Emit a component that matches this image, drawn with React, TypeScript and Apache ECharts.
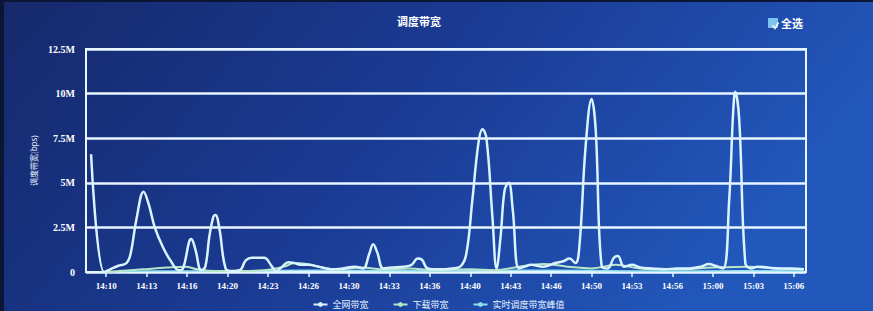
import React, { useEffect, useRef } from "react";
import * as echarts from "echarts";

// x ticks (HH:mm:ss), values in M
const tickTimes = [
  "14:10:00", "14:13:20", "14:16:40", "14:20:00", "14:23:20", "14:26:40",
  "14:30:00", "14:33:20", "14:36:40", "14:40:00", "14:43:20", "14:46:40",
  "14:50:00", "14:53:20", "14:56:40", "15:00:00", "15:03:20", "15:06:40",
];
const yTicks = [0, 2.5, 5, 7.5, 10, 12.5];

const mainTimes = [
  "14:08:45", "14:09:50", "14:10:20", "14:11:00", "14:11:40", "14:12:00", "14:12:30", "14:13:05",
  "14:13:30", "14:14:00", "14:14:40", "14:15:20", "14:16:00", "14:16:20", "14:16:50", "14:17:00",
  "14:17:20", "14:17:50", "14:18:10", "14:18:30", "14:18:50", "14:19:00", "14:19:20", "14:19:50",
  "14:20:20", "14:21:00", "14:21:30", "14:22:00", "14:23:00", "14:23:40", "14:24:00", "14:24:30",
  "14:25:00", "14:25:30", "14:26:00", "14:26:40", "14:27:30", "14:28:30", "14:29:30", "14:30:30",
  "14:31:10", "14:31:40", "14:32:00", "14:32:20", "14:32:50", "14:33:30", "14:34:30", "14:35:10",
  "14:35:40", "14:36:00", "14:36:30", "14:37:30", "14:38:30", "14:39:10", "14:39:40", "14:40:10",
  "14:40:40", "14:41:00", "14:41:20", "14:41:50", "14:42:10", "14:42:30", "14:42:50", "14:43:10",
  "14:43:30", "14:44:00", "14:44:30", "14:45:00", "14:46:00", "14:47:00", "14:47:40", "14:48:10",
  "14:48:40", "14:49:00", "14:49:30", "14:50:00", "14:50:20", "14:50:50", "14:51:20", "14:51:50",
  "14:52:10", "14:52:40", "14:53:20", "14:54:00", "14:55:00", "14:56:00", "14:57:00", "14:58:00",
  "14:59:00", "14:59:40", "15:00:10", "15:00:50", "15:01:20", "15:01:40", "15:01:50", "15:02:10",
  "15:02:40", "15:03:10", "15:03:40", "15:04:30", "15:05:30", "15:06:30", "15:07:30",
];
const mainValues = [
  6.6, 0.0, 0.15, 0.35, 0.5, 1.0, 3.0, 4.5,
  3.8, 2.5, 1.4, 0.6, 0.1, 0.2, 1.7, 1.85,
  1.3, 0.1, 0.3, 2.0, 3.1, 3.2, 2.4, 0.2,
  0.05, 0.1, 0.65, 0.8, 0.8, 0.3, 0.05, 0.3,
  0.55, 0.5, 0.4, 0.4, 0.3, 0.15, 0.2, 0.3,
  0.2, 1.0, 1.55, 1.1, 0.2, 0.25, 0.3, 0.4,
  0.75, 0.7, 0.2, 0.15, 0.2, 0.3, 1.0, 4.0,
  7.2, 8.0, 7.5, 3.0, 0.2, 2.0, 4.6, 5.0,
  3.5, 0.2, 0.3, 0.4, 0.3, 0.5, 0.6, 0.75,
  0.5, 1.5, 7.0, 9.7, 8.0, 0.3, 0.2, 0.8,
  0.9, 0.3, 0.4, 0.25, 0.2, 0.15, 0.2, 0.2,
  0.3, 0.45, 0.35, 0.2, 4.0, 9.0, 10.1, 8.5,
  0.5, 0.2, 0.3, 0.25, 0.2, 0.2, 0.15,
];

const secondTimes = [
  "14:09:50", "14:11:00", "14:13:00", "14:15:00", "14:16:30", "14:17:30", "14:19:00", "14:21:00",
  "14:23:00", "14:24:40", "14:25:30", "14:26:30", "14:27:30", "14:29:00", "14:31:00", "14:33:00",
  "14:35:00", "14:37:00", "14:40:00", "14:42:00", "14:44:00", "14:46:00", "14:48:00", "14:50:00",
  "14:52:00", "14:54:00", "14:57:00", "15:00:00", "15:03:00", "15:05:00", "15:07:30",
];
const secondValues = [
  0.0, 0.05, 0.15, 0.25, 0.3, 0.15, 0.05, 0.05,
  0.1, 0.3, 0.5, 0.45, 0.3, 0.15, 0.25, 0.15,
  0.2, 0.1, 0.15, 0.1, 0.3, 0.45, 0.3, 0.2,
  0.4, 0.2, 0.15, 0.25, 0.3, 0.2, 0.15,
];

const thirdTimes = [
  "14:09:50", "14:14:00", "14:20:00", "14:26:00", "14:32:00", "14:38:00", "14:44:00",
  "14:50:00", "14:56:00", "15:02:00", "15:07:30",
];
const thirdValues = [0.0, 0.05, 0.05, 0.1, 0.08, 0.06, 0.1, 0.08, 0.05, 0.07, 0.05];

const seriesNames = ["全网带宽", "下载带宽", "实时调度带宽峰值"];

const BASE = 14 * 3600 + 10 * 60;
const toSec = (s: string) => {
  const [h, m, sec] = s.split(":").map(Number);
  return h * 3600 + m * 60 + sec - BASE;
};
const fmt = (v: number) => {
  const t = Math.round(v + BASE);
  const h = Math.floor(t / 3600);
  const m = Math.floor((t % 3600) / 60);
  return `${h}:${String(m).padStart(2, "0")}`;
};
const pairs = (ts: string[], vs: number[]) => ts.map((t, i) => [toSec(t), vs[i]]);

export default function App() {
  const ref = useRef<HTMLDivElement>(null);
  useEffect(() => {
    if (!ref.current) return;
    const chart = echarts.init(ref.current, null, { renderer: "svg" });
    const tickVals = tickTimes.map(toSec);
    chart.setOption({
      animation: false,
      backgroundColor: {
        type: "linear", x: 0, y: 0, x2: 1, y2: 0.3,
        colorStops: [
          { offset: 0, color: "#16296c" },
          { offset: 0.5, color: "#1a3a92" },
          { offset: 1, color: "#2257bb" },
        ],
      },
      title: {
        text: "调度带宽",
        left: 410, top: 8, textAlign: "center",
        textStyle: { color: "#ffffff", fontSize: 11, fontWeight: "bold", fontFamily: "Noto Sans CJK SC" },
      },
      legend: {
        top: 293, left: "center",
        itemWidth: 14, itemHeight: 6, itemGap: 24,
        data: seriesNames,
        textStyle: { color: "#e8f4ff", fontSize: 9, fontFamily: "Noto Sans CJK SC" },
      },
      grid: {
        left: 82, right: 67, top: 47, bottom: 39,
        show: true, borderColor: "#e8f6ff", borderWidth: 2,
      },
      xAxis: {
        type: "value",
        min: -100, max: 3460,
        axisLine: { show: true, onZero: false, lineStyle: { color: "#e8f6ff", width: 2 } },
        axisTick: { show: true, customValues: tickVals, length: 5, lineStyle: { color: "#e8f6ff", width: 1.5 } },
        axisLabel: {
          customValues: tickVals, formatter: (v: number) => fmt(v),
          color: "#ffffff", fontSize: 9, fontWeight: "bold", margin: 9,
          fontFamily: "Liberation Serif",
        },
        splitLine: { show: false },
      },
      yAxis: {
        type: "value",
        min: 0, max: 12.5, interval: 2.5,
        name: "调度带宽(bps)",
        nameLocation: "middle", nameRotate: 90, nameGap: 48,
        nameTextStyle: { color: "#e8f4ff", fontSize: 8, fontFamily: "Noto Sans CJK SC" },
        axisLine: { show: true, onZero: false, lineStyle: { color: "#e8f6ff", width: 2 } },
        axisTick: { show: false },
        axisLabel: {
          formatter: (v: number) => (v === 0 ? "0" : `${v}M`),
          color: "#ffffff", fontSize: 10, fontWeight: "bold", margin: 11,
          fontFamily: "Liberation Serif",
        },
        splitLine: { show: true, lineStyle: { color: "#e8f6ff", width: 2.5 } },
      },
      graphic: [
        {
          type: "rect", left: 764, top: 16, shape: { width: 10, height: 10, r: 1 },
          style: { fill: "#7fc4ee" },
        },
        {
          type: "polyline", left: 766, top: 18,
          shape: { points: [[0, 3], [2.5, 6], [6, 0]] },
          style: { stroke: "#ffffff", lineWidth: 1.5, fill: "none" },
        },
        {
          type: "text", left: 777, top: 15,
          style: { text: "全选", fill: "#ffffff", fontSize: 11, fontWeight: "bold", fontFamily: "Noto Sans CJK SC" },
        },
      ],
      series: [
        {
          name: seriesNames[0], type: "line", smooth: 0.4, symbol: "none",
          data: pairs(mainTimes, mainValues),
          lineStyle: { color: "#d9f3ff", width: 2.5 }, itemStyle: { color: "#d9f3ff" }, z: 3,
        },
        {
          name: seriesNames[1], type: "line", smooth: 0.4, symbol: "none",
          data: pairs(secondTimes, secondValues),
          lineStyle: { color: "#b9e6c8", width: 2 }, itemStyle: { color: "#b9e6c8" }, z: 2,
        },
        {
          name: seriesNames[2], type: "line", smooth: 0.4, symbol: "none",
          data: pairs(thirdTimes, thirdValues),
          lineStyle: { color: "#8fe0f0", width: 1.5 }, itemStyle: { color: "#8fe0f0" }, z: 1,
        },
      ],
    });
    return () => chart.dispose();
  }, []);
  return (
    <div style={{ position: "fixed", left: 0, top: 0, width: 873, height: 311, background: "#0a1633" }}>
      <div ref={ref} style={{ position: "absolute", left: 4, top: 2, width: 869, height: 309 }} />
    </div>
  );
}
